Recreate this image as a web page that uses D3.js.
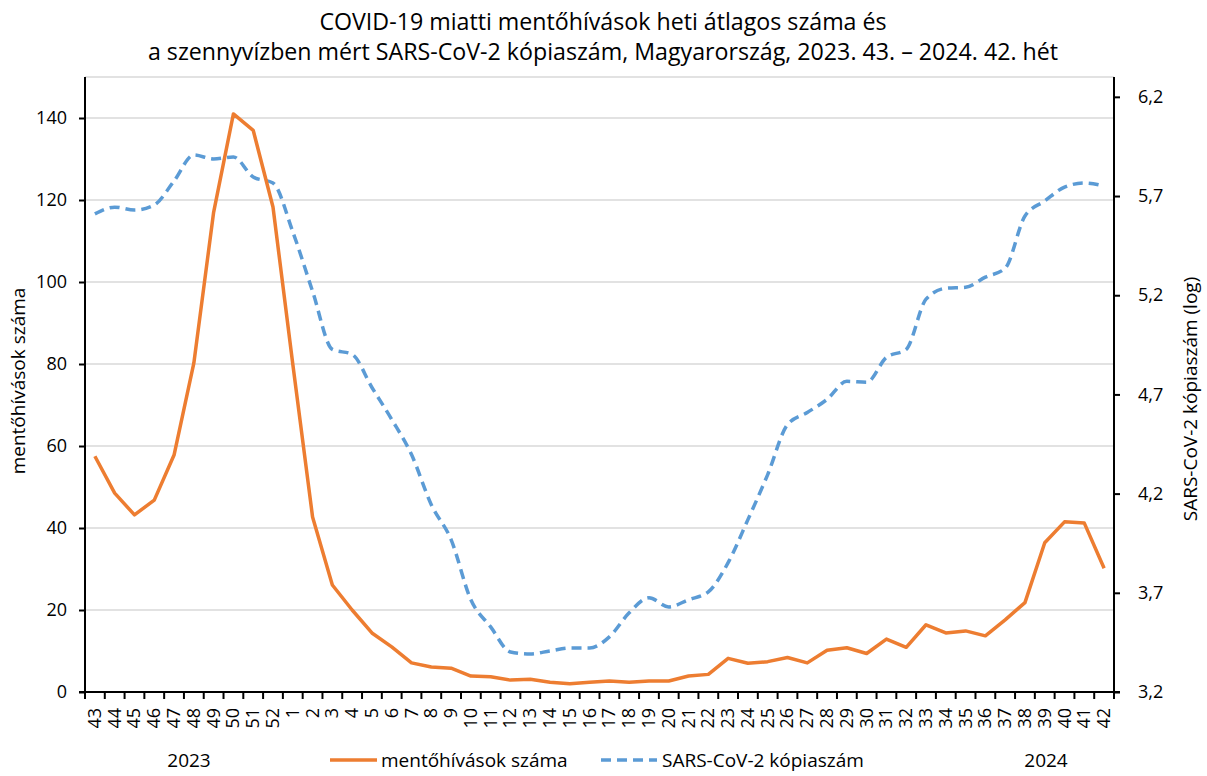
<!DOCTYPE html>
<html><head><meta charset="utf-8">
<script src="https://cdn.jsdelivr.net/npm/d3@7"></script>
<style>
body{margin:0;background:#fff;}
svg text{font-family:"Open Sans",sans-serif;fill:#000;}
</style></head>
<body><svg id="c" width="1207" height="776"></svg>
<script>
const weeks = ["43","44","45","46","47","48","49","50","51","52",
 "1","2","3","4","5","6","7","8","9","10","11","12","13","14","15","16","17","18","19","20",
 "21","22","23","24","25","26","27","28","29","30","31","32","33","34","35","36","37","38","39","40","41","42"];
const calls = [57.5,48.5,43.2,46.8,57.8,80.2,117,141,137,118.3,
 80,42.7,26.1,20,14.4,11,7.1,6.1,5.8,3.9,3.7,2.9,3.1,2.4,2.0,2.4,2.7,2.4,2.7,2.7,
 3.9,4.3,8.2,7.0,7.4,8.4,7.1,10.2,10.8,9.4,12.9,10.9,16.4,14.4,14.9,13.7,17.6,21.8,36.4,41.5,41.2,30.2];
const copies = [5.61,5.644,5.629,5.655,5.776,5.907,5.887,5.897,5.796,5.766,
 5.52,5.22,4.927,4.902,4.735,4.574,4.397,4.144,3.968,3.665,3.528,3.402,3.392,3.407,3.422,3.422,3.478,3.599,3.675,3.629,
 3.665,3.705,3.852,4.069,4.296,4.548,4.609,4.675,4.766,4.761,4.887,4.927,5.18,5.235,5.24,5.291,5.336,5.599,5.675,5.745,5.766,5.75];
const leftTicks = [0,20,40,60,80,100,120,140];
const rightTicks = [3.2,3.7,4.2,4.7,5.2,5.7,6.2];
const titleLines = ["COVID-19 miatti mentőhívások heti átlagos száma és",
 "a szennyvízben mért SARS-CoV-2 kópiaszám, Magyarország, 2023. 43. – 2024. 42. hét"];
const seriesNames = ["mentőhívások száma","SARS-CoV-2 kópiaszám"];
const yearLabels = ["2023","2024"];

const svg = d3.select("#c");
const L=85, R=1114, T=77, B=692;
const x = d3.scaleBand().domain(weeks).range([L,R]).padding(0);
const xc = d => x(d)+x.bandwidth()/2;
const yL = d3.scaleLinear().domain([0,150]).range([B,T]);
const yR = d3.scaleLinear().domain([3.2,6.3]).range([B,T]);
const orange="#ED7D31", blue="#5B9BD5";

// gridlines
svg.append("g").selectAll("line").data(leftTicks.filter(d=>d>0).concat([150])).join("line")
 .attr("x1",L).attr("x2",R).attr("y1",d=>yL(d)).attr("y2",d=>yL(d))
 .attr("stroke","#d9d9d9").attr("stroke-width",1.5);

// left axis
const gl = svg.append("g").attr("transform",`translate(${L},0)`)
 .call(d3.axisLeft(yL).tickValues(leftTicks).tickSize(6).tickPadding(12).tickFormat(d3.format("d")));
gl.select(".domain").attr("stroke","#000").attr("stroke-width",2).attr("d",`M0,${T}V${B}`);
gl.selectAll(".tick line").attr("stroke","#000").attr("stroke-width",2);
gl.selectAll("text").attr("font-size",18).attr("font-family","Open Sans");

// right axis
const gr = svg.append("g").attr("transform",`translate(${R},0)`)
 .call(d3.axisRight(yR).tickValues(rightTicks).tickSize(6).tickPadding(18).tickFormat(d=>d3.format(".1f")(d).replace(".",",")));
gr.select(".domain").attr("stroke","#000").attr("stroke-width",2).attr("d",`M0,${T}V${B}`);
gr.selectAll(".tick line").attr("stroke","#000").attr("stroke-width",2);
gr.selectAll("text").attr("font-size",18).attr("font-family","Open Sans");

// x axis
const gx = svg.append("g").attr("transform",`translate(0,${B})`);
gx.append("line").attr("x1",L-6).attr("x2",R+6).attr("y1",0).attr("y2",0).attr("stroke","#000").attr("stroke-width",2);
const bounds = weeks.map(d=>x(d)).concat([R]);
gx.selectAll("line.t").data(bounds).join("line").attr("class","t")
 .attr("x1",d=>d).attr("x2",d=>d).attr("y1",0).attr("y2",7).attr("stroke","#000").attr("stroke-width",2);
gx.selectAll("text").data(weeks).join("text")
 .attr("transform",d=>`translate(${xc(d)+6},16) rotate(-90)`)
 .attr("text-anchor","end").attr("font-size",18).text(d=>d);

// lines
const lineL = d3.line().x((d,i)=>xc(weeks[i])).y(d=>yL(d));
const lineR = d3.line().x((d,i)=>xc(weeks[i])).y(d=>yR(d)).curve(d3.curveMonotoneX);
svg.append("path").datum(copies).attr("d",lineR).attr("fill","none")
 .attr("stroke",blue).attr("stroke-width",3.5).attr("stroke-dasharray","10,6");
svg.append("path").datum(calls).attr("d",lineL).attr("fill","none")
 .attr("stroke",orange).attr("stroke-width",3.5).attr("stroke-linejoin","round");

// title
svg.selectAll("text.title").data(titleLines).join("text").attr("class","title")
 .attr("x",603).attr("y",(d,i)=>30+i*30).attr("text-anchor","middle").attr("font-size",23.2).text(d=>d);

// axis titles
svg.append("text").attr("transform","translate(25,381) rotate(-90)").attr("text-anchor","middle")
 .attr("font-size",19).text(seriesNames[0]);
svg.append("text").attr("transform","translate(1197,399) rotate(-90)").attr("text-anchor","middle")
 .attr("font-size",19).text(seriesNames[1]+" (log)");

// years
svg.append("text").attr("x",189).attr("y",767).attr("text-anchor","middle").attr("font-size",19).text(yearLabels[0]);
svg.append("text").attr("x",1046).attr("y",767).attr("text-anchor","middle").attr("font-size",19).text(yearLabels[1]);

// legend
const lg = svg.append("g");
lg.append("line").attr("x1",330).attr("x2",377).attr("y1",760).attr("y2",760).attr("stroke",orange).attr("stroke-width",3.5);
lg.append("text").attr("x",381).attr("y",767).attr("font-size",19).text(seriesNames[0]);
lg.append("line").attr("x1",601).attr("x2",657).attr("y1",760).attr("y2",760).attr("stroke",blue).attr("stroke-width",3.5).attr("stroke-dasharray","10,6");
lg.append("text").attr("x",662).attr("y",767).attr("font-size",19).text(seriesNames[1]);
</script></body></html>
